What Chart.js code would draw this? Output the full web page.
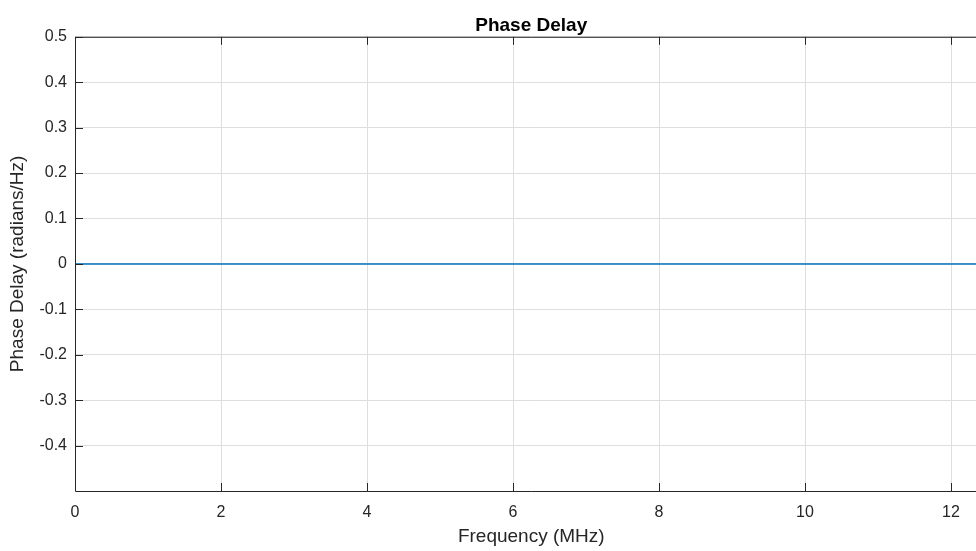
<!DOCTYPE html>
<html>
<head>
<meta charset="utf-8">
<script src="https://cdn.jsdelivr.net/npm/chart.js@4.4.1/dist/chart.umd.min.js"></script>
<style>
  html, body { margin: 0; padding: 0; overflow: hidden; background: #fff; }
  #wrap { width: 1062px; height: 551px; }
</style>
</head>
<body>
<div id="wrap"><canvas id="phaseDelay"></canvas></div>
<script>
// frequency grid (MHz) and phase delay (radians/Hz)
var freq = [0, 1, 2, 3, 4, 5, 6, 7, 8, 9, 10, 11, 12, 12.5];
var delay = [0, 0, 0, 0, 0, 0, 0, 0, 0, 0, 0, 0, 0, 0];
var xTicks = [0, 2, 4, 6, 8, 10, 12];
var yTicks = [-0.4, -0.3, -0.2, -0.1, 0, 0.1, 0.2, 0.3, 0.4, 0.5];

var axisColor = '#262626';
var gridColor = '#dedede';
var fontFamily = '"Liberation Sans", Arial, Helvetica, sans-serif';

var points = freq.map(function (f, i) { return {x: f, y: delay[i]}; });

// axes box with inward tick marks; title centred over the plot area
var axisBox = {
    id: 'axisBox',
    afterLayout: function (chart) {
        var t = chart.titleBlock;
        if (t) {
            t.left = chart.chartArea.left;
            t.right = chart.chartArea.right;
            t.width = t.right - t.left;
        }
    },
    afterDraw: function (chart) {
        var ctx = chart.ctx;
        var a = chart.chartArea;
        var xs = chart.scales.x, ys = chart.scales.y;
        ctx.save();
        ctx.strokeStyle = axisColor;
        ctx.lineWidth = 1;
        ctx.beginPath();
        ctx.moveTo(a.left + 0.5, a.top + 0.5);
        ctx.lineTo(a.right + 0.5, a.top + 0.5);
        ctx.lineTo(a.right + 0.5, a.bottom + 0.5);
        ctx.lineTo(a.left + 0.5, a.bottom + 0.5);
        ctx.closePath();
        xTicks.forEach(function (v) {
            var px = Math.round(xs.getPixelForValue(v)) + 0.5;
            ctx.moveTo(px, a.bottom);
            ctx.lineTo(px, a.bottom - 8);
            ctx.moveTo(px, a.top);
            ctx.lineTo(px, a.top + 8);
        });
        yTicks.forEach(function (v) {
            var py = Math.round(ys.getPixelForValue(v)) + 0.5;
            ctx.moveTo(a.left, py);
            ctx.lineTo(a.left + 8, py);
            ctx.moveTo(a.right, py);
            ctx.lineTo(a.right - 8, py);
        });
        ctx.stroke();
        ctx.restore();
    }
};

new Chart(document.getElementById('phaseDelay').getContext('2d'), {
    type: 'line',
    data: {
        datasets: [{
            data: points,
            borderColor: '#0072bd',
            borderWidth: 1.5,
            pointRadius: 0,
            fill: false
        }]
    },
    options: {
        responsive: true,
        maintainAspectRatio: false,
        animation: false,
        layout: {padding: {left: 0, right: 74.5, top: 0, bottom: 0}},
        plugins: {
            legend: {display: false},
            tooltip: {enabled: false},
            title: {
                display: true,
                text: 'Phase Delay',
                color: '#000',
                font: {family: fontFamily, size: 19, weight: 'bold', lineHeight: 1.2},
                padding: {top: 14, bottom: 0}
            }
        },
        scales: {
            x: {
                type: 'linear',
                min: 0,
                max: 12.5,
                afterBuildTicks: function (scale) {
                    scale.ticks = xTicks.map(function (v) { return {value: v}; });
                },
                afterFit: function (scale) { scale.height = 60; },
                grid: {color: gridColor, drawTicks: false},
                border: {display: false},
                ticks: {color: axisColor, font: {family: fontFamily, size: 16}, padding: 12, maxRotation: 0},
                title: {
                    display: true,
                    text: 'Frequency (MHz)',
                    color: axisColor,
                    font: {family: fontFamily, size: 19},
                    padding: {top: 0, bottom: 3}
                }
            },
            y: {
                min: -0.5,
                max: 0.5,
                afterBuildTicks: function (scale) {
                    scale.ticks = yTicks.map(function (v) { return {value: v}; });
                },
                afterFit: function (scale) { scale.width = 75; },
                grid: {color: gridColor, drawTicks: false},
                border: {display: false},
                ticks: {
                    color: axisColor,
                    font: {family: fontFamily, size: 16},
                    padding: 8,
                    callback: function (v) { return v === 0 ? '0' : v.toFixed(1); }
                },
                title: {
                    display: true,
                    text: 'Phase Delay (radians/Hz)',
                    color: axisColor,
                    font: {family: fontFamily, size: 19},
                    padding: {top: 6, bottom: 0}
                }
            }
        }
    },
    plugins: [axisBox]
});
</script>
</body>
</html>
